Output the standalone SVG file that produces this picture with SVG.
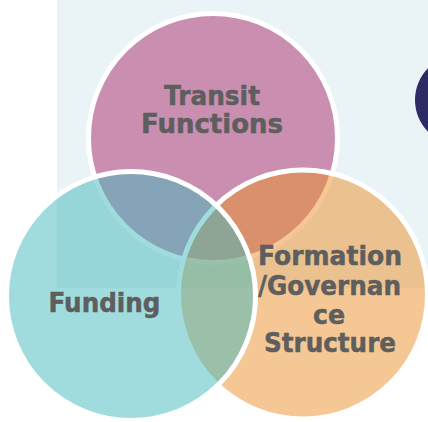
<svg xmlns="http://www.w3.org/2000/svg" width="428" height="422" viewBox="0 0 428 422">
  <style>
    .ring { stroke: #FFFFFF; stroke-width: 5; }
    .lbl { font-family: "DejaVu Sans", "Liberation Sans", sans-serif; font-weight: 700; font-size: 26px; fill: #5E5E5E; stroke: #5E5E5E; stroke-width: 0.5; text-anchor: middle; }
  </style>
  <rect id="panel" x="57" y="0" width="371" height="288" fill="#EAF3F5"/>
  <g id="navy-circle">
    <circle cx="460" cy="100" r="45" fill="#2D2A64"/>
  </g>
  <g id="transit-functions">
    <circle class="ring" cx="213" cy="138" r="124.5" fill="#C98EB0"/>
    <text class="lbl" x="212" y="104.5" textLength="96" lengthAdjust="spacingAndGlyphs">Transit</text>
    <text class="lbl" x="212" y="132.5" textLength="142" lengthAdjust="spacingAndGlyphs">Functions</text>
  </g>
  <g id="formation-governance-structure">
    <circle class="ring" cx="303" cy="294.5" r="124.5" fill="#EB8F29" fill-opacity="0.5"/>
    <text class="lbl" x="330" y="265" textLength="144" lengthAdjust="spacingAndGlyphs">Formation</text>
    <text class="lbl" x="329.5" y="295" textLength="143" lengthAdjust="spacingAndGlyphs">/Governan</text>
    <text class="lbl" x="329" y="323.5" textLength="32" lengthAdjust="spacingAndGlyphs">ce</text>
    <text class="lbl" x="330" y="352" textLength="132" lengthAdjust="spacingAndGlyphs">Structure</text>
  </g>
  <g id="funding">
    <circle class="ring" cx="131" cy="296" r="124.5" fill="#41B9BD" fill-opacity="0.5"/>
    <text class="lbl" x="104.5" y="311.7" textLength="112" lengthAdjust="spacingAndGlyphs">Funding</text>
  </g>
</svg>
